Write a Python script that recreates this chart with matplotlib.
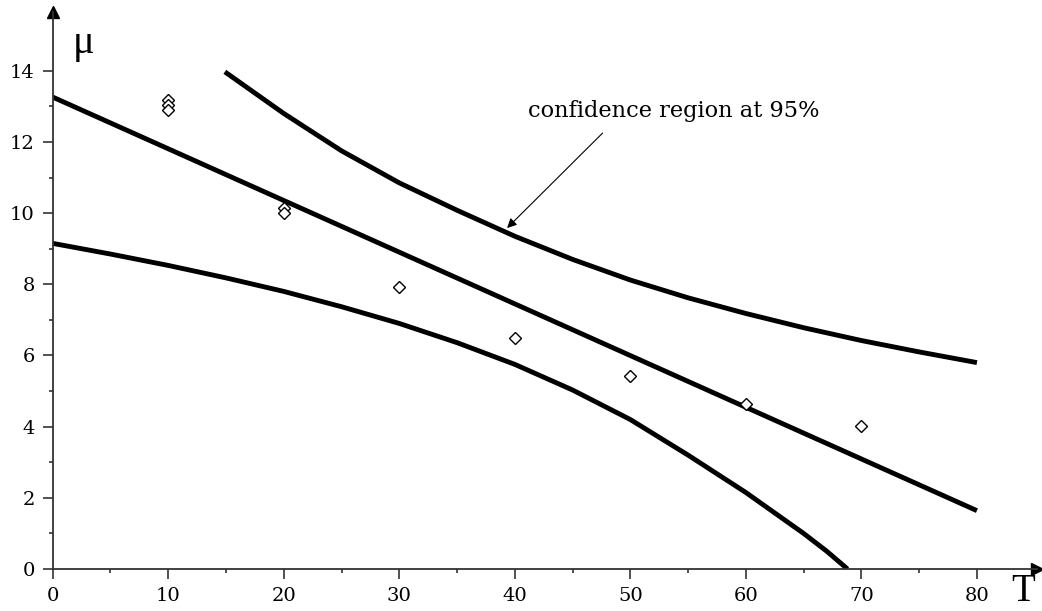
import numpy as np
import matplotlib
matplotlib.use("Agg")
import matplotlib.pyplot as plt
from matplotlib.ticker import FixedLocator

# measured points (T, mu)
obs_T = [10, 10, 10, 20, 20, 30, 40, 50, 60, 70]
obs_mu = [13.17, 13.03, 12.9, 10.15, 10.0, 7.93, 6.50, 5.42, 4.63, 4.02]

# regression line
fit_T = [0, 80]
fit_mu = [13.26, 1.64]

# upper band of the confidence region
upper_T = [14.9, 20, 25, 30, 35, 40, 45, 50, 55, 60, 65, 70, 75, 80]
upper_mu = [13.97, 12.80, 11.75, 10.85, 10.08, 9.35, 8.70, 8.12, 7.62, 7.18, 6.78, 6.42, 6.10, 5.80]

# lower band
lower_T = [0, 5, 10, 15, 20, 25, 30, 35, 40, 45, 50, 55, 60, 65, 67, 68.8]
lower_mu = [9.15, 8.85, 8.53, 8.18, 7.80, 7.37, 6.90, 6.36, 5.75, 5.03, 4.20, 3.20, 2.15, 1.00, 0.50, 0.0]

x_major = list(range(0, 81, 10))
x_minor = list(range(5, 80, 10))
y_major = list(range(0, 15, 2))
y_minor = list(range(1, 14, 2))

plt.rcParams['font.family'] = ['DejaVu Serif']

fig = plt.figure(figsize=(10.42, 6.11), dpi=100)
ax = fig.add_axes([0.0506, 0.0687, 0.9446, 0.9116])
ax.set_xlim(0, 85.2)
ax.set_ylim(0, 15.65)

axis_col = '#333333'
for side in ['top', 'right']:
    ax.spines[side].set_visible(False)
for side in ['left', 'bottom']:
    ax.spines[side].set_color(axis_col)
    ax.spines[side].set_linewidth(1.3)

ax.xaxis.set_major_locator(FixedLocator(x_major))
ax.xaxis.set_minor_locator(FixedLocator(x_minor))
ax.yaxis.set_major_locator(FixedLocator(y_major))
ax.yaxis.set_minor_locator(FixedLocator(y_minor))
ax.tick_params(which='major', direction='out', length=7, width=1.2, color=axis_col,
               labelsize=14, pad=6)
ax.tick_params(which='minor', direction='out', length=3.2, width=1.2, color=axis_col)

# axis arrows
ax.plot(1, 0, '>', color='black', markersize=9, transform=ax.transAxes, clip_on=False)
ax.plot(0, 1, '^', color='black', markersize=9, transform=ax.transAxes, clip_on=False)

ax.plot(fit_T, fit_mu, color='black', lw=3.5, solid_capstyle='butt')
ax.plot(upper_T, upper_mu, color='black', lw=3.5, solid_capstyle='butt')
ax.plot(lower_T, lower_mu, color='black', lw=3.5, solid_capstyle='butt')

ax.plot(obs_T, obs_mu, 'D', markersize=5.8, markerfacecolor='white',
        markeredgecolor='black', markeredgewidth=1.0, linestyle='none')

ax.annotate('', xy=(39.33, 9.58), xytext=(47.6, 12.25),
            arrowprops=dict(arrowstyle='-|>', color='black', lw=0.8,
                            mutation_scale=14, shrinkA=0, shrinkB=0))
ax.text(41.15, 12.71, 'confidence region at 95%', fontsize=16.2, ha='left', va='baseline')

fig.text(73 / 1042, 1 - 25 / 611, '\u03bc', fontsize=29, ha='left', va='top',
         family='Liberation Serif')
fig.text(1011 / 1042, 1 / 611, 'T', fontsize=28, ha='left', va='bottom',
         family='Liberation Serif')

fig.savefig('out.png', dpi=100)
